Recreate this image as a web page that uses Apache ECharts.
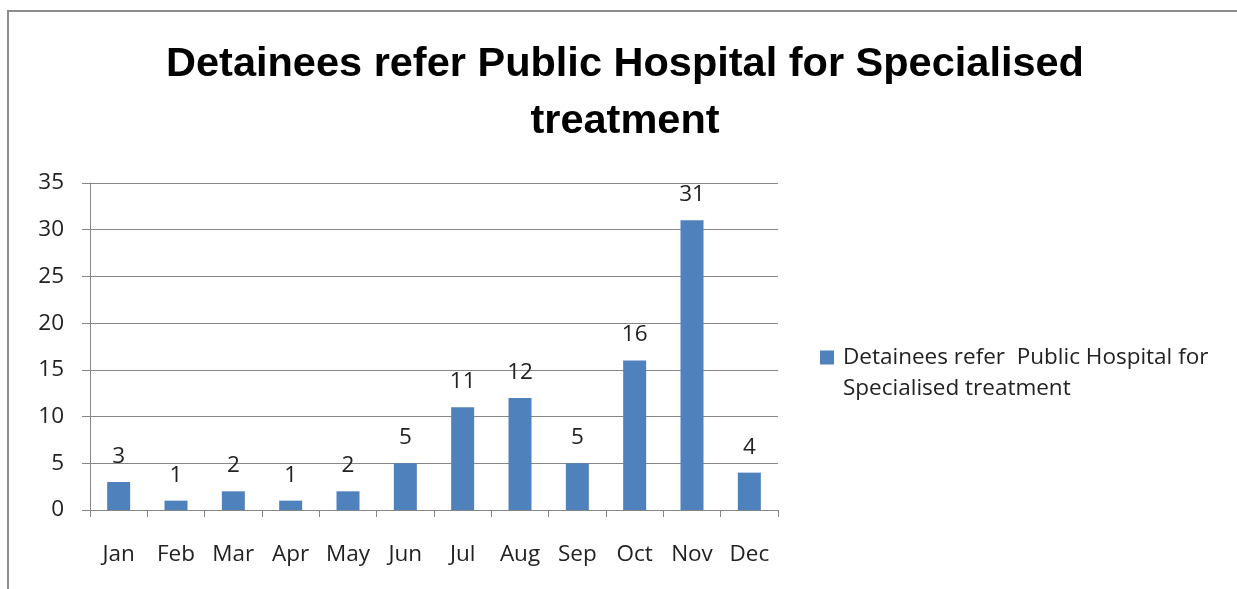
<!DOCTYPE html>
<html><head><meta charset="utf-8">
<script src="https://cdn.jsdelivr.net/npm/echarts@6/dist/echarts.min.js"></script>
<style>html,body{margin:0;padding:0;background:#fff}#c{width:1237px;height:589px}</style>
</head><body><div id="c"></div>
<script>
const titleText = 'Detainees refer Public Hospital for Specialised\ntreatment';
const seriesName = 'Detainees refer  Public Hospital for\nSpecialised treatment';
const months = ['Jan','Feb','Mar','Apr','May','Jun','Jul','Aug','Sep','Oct','Nov','Dec'];
const referrals = [3,1,2,1,2,5,11,12,5,16,31,4];
const yMin = 0, yMax = 35, yStep = 5;

const chart = echarts.init(document.getElementById('c'), null, {renderer:'canvas'});
const labelFont = '"Open Sans", sans-serif';
const titleFont = '"Liberation Sans", Arial, sans-serif';
chart.setOption({
  animation:false,
  backgroundColor:'#fff',
  graphic:[{type:'rect',shape:{x:8,y:11,width:1300,height:700},style:{fill:'none',stroke:'#8c8c8c',lineWidth:2},silent:true}],
  title:{text:titleText,left:625,textAlign:'center',top:36,padding:0,
    textStyle:{fontFamily:titleFont,fontWeight:'bold',fontSize:41.5,lineHeight:57,color:'#000'}},
  legend:{left:820,top:342,padding:0,orient:'vertical',itemWidth:14,itemHeight:45,
    icon:'path://M0,0L14,0L14,14L0,14Z M0,45L0,45Z',
    textStyle:{fontFamily:labelFont,fontSize:22.5,lineHeight:31,color:'#222',padding:[0,0,0,4]}},
  grid:{left:90,right:459,top:183,bottom:79,containLabel:false},
  xAxis:{type:'category',data:months,
    axisLine:{lineStyle:{color:'#868686',width:1}},
    axisTick:{show:true,alignWithLabel:false,length:7,lineStyle:{color:'#868686'}},
    axisLabel:{fontFamily:labelFont,fontSize:22.5,color:'#222',margin:33}},
  yAxis:{type:'value',min:yMin,max:yMax,interval:yStep,
    axisLine:{show:true,lineStyle:{color:'#868686'}},
    axisTick:{show:true,length:8,lineStyle:{color:'#868686'}},
    splitLine:{lineStyle:{color:'#868686',width:1}},
    axisLabel:{fontFamily:labelFont,fontSize:22.5,color:'#222',margin:26}},
  series:[{type:'bar',name:seriesName,data:referrals,barWidth:23,
    itemStyle:{color:'#4F81BD'},
    label:{show:true,position:'top',distance:14,fontFamily:labelFont,fontSize:22.5,color:'#222'}}]
});
</script></body></html>
